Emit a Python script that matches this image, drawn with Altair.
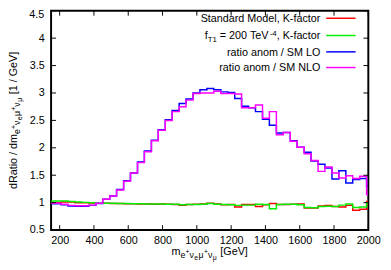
import altair as alt
import pandas as pd

# ---- data ----
edges = [150, 208, 249, 289, 330, 370, 411, 451, 492, 532, 573, 613, 654, 694, 735, 775,
         816, 856, 897, 937, 978, 1018, 1059, 1099, 1140, 1180, 1221, 1261, 1302, 1342,
         1383, 1423, 1464, 1504, 1545, 1585, 1626, 1666, 1707, 1747, 1788, 1828, 1869,
         1909, 1950, 1990, 2000]

sm_kfactor = [1.0, 1.01, 1.01, 1.0, 1.0, 0.995, 0.99, 0.99, 0.985, 0.985,
              0.98, 0.98, 0.975, 0.975, 0.97, 0.975, 0.97, 0.965, 0.95, 0.965,
              0.97, 0.975, 0.99, 0.975, 0.96, 0.965, 0.92, 0.965, 0.965, 0.93,
              0.96, 0.985, 0.965, 0.965, 0.97, 0.975, 0.90, 0.90, 0.94, 0.95,
              0.93, 0.92, 0.95, 0.86, 0.88, 1.02]
ft1_kfactor = [1.03, 1.03, 1.02, 1.01, 1.005, 1.0, 0.995, 0.99, 0.99, 0.985,
               0.985, 0.98, 0.98, 0.975, 0.975, 0.975, 0.97, 0.97, 0.96, 0.965,
               0.965, 0.97, 0.985, 0.97, 0.965, 0.96, 0.95, 0.955, 0.955, 0.97,
               0.965, 0.89, 0.965, 0.97, 0.97, 0.96, 0.91, 0.905, 0.93, 0.935,
               0.93, 0.955, 0.975, 0.91, 0.92, 1.0]
ratio_lo = [0.98, 0.96, 0.94, 0.935, 0.935, 0.95, 0.985, 1.06, 1.12, 1.24,
            1.40, 1.54, 1.74, 1.94, 2.14, 2.33, 2.51, 2.68, 2.81, 2.89,
            3.00, 3.06, 3.08, 3.06, 3.02, 3.01, 2.90, 2.76, 2.73, 2.66,
            2.52, 2.41, 2.27, 2.28, 2.13, 2.01, 1.92, 1.76, 1.70, 1.63,
            1.43, 1.58, 1.36, 1.42, 1.44, 1.30]
ratio_nlo = [0.99, 0.97, 0.95, 0.945, 0.945, 0.955, 0.99, 1.06, 1.12, 1.23,
             1.39, 1.54, 1.73, 1.93, 2.13, 2.32, 2.50, 2.66, 2.75, 2.87,
             2.99, 3.00, 3.00, 3.03, 2.99, 2.99, 2.98, 2.73, 2.73, 2.78,
             2.54, 2.66, 2.24, 2.28, 2.12, 2.01, 1.89, 1.77, 1.57, 1.65,
             1.54, 1.45, 1.49, 1.44, 1.48, 1.15]

series_names = ["Standard Model, K-factor", "f_T1 = 200 TeV^-4, K-factor",
                "ratio anom / SM LO", "ratio anom / SM NLO"]
series_values = [sm_kfactor, ft1_kfactor, ratio_lo, ratio_nlo]
series_colors = ["#ff0000", "#00ee00", "#0000ff", "#ff00ff"]

x_ticks = [200, 400, 600, 800, 1000, 1200, 1400, 1600, 1800, 2000]
y_ticks = [0.5, 1, 1.5, 2, 2.5, 3, 3.5, 4, 4.5]
y_labelled = [0.5, 1, 1.5, 2, 2.5, 3, 3.5, 4]

W, H = 324, 224
FONT = "Liberation Sans"

xscale = alt.Scale(domain=[150, 2000], nice=False, zero=False)
yscale = alt.Scale(domain=[0.5, 4.5], nice=False, zero=False)
xaxis = alt.Axis(values=x_ticks, format="d", labelPadding=5, labelFlush=False, title=None)
yaxis = alt.Axis(values=y_labelled, format="~g", labelPadding=7, title=None)


def step_df(vals):
    return pd.DataFrame({"x": edges, "v": list(vals) + [vals[-1]]})


layers = []
for vals, col in zip(series_values, series_colors):
    layers.append(
        alt.Chart(step_df(vals)).mark_line(interpolate="step-after", color=col,
                                           strokeWidth=1.5, clip=True)
        .encode(x=alt.X("x:Q", scale=xscale, axis=xaxis),
                y=alt.Y("v:Q", scale=yscale, axis=yaxis))
    )

# inward ticks on all four sides
xt = pd.DataFrame({"x": x_ticks})
yt = pd.DataFrame({"v": y_ticks})
one = pd.DataFrame({"k": [0]})
tick_style = dict(color="black", strokeWidth=1)
layers.append(alt.Chart(xt).mark_rule(**tick_style).encode(
    x=alt.X("x:Q", scale=xscale, axis=xaxis), y=alt.value(H), y2=alt.value(H - 5)))
layers.append(alt.Chart(xt).mark_rule(**tick_style).encode(
    x=alt.X("x:Q", scale=xscale, axis=xaxis), y=alt.value(0), y2=alt.value(5)))
layers.append(alt.Chart(yt).mark_rule(**tick_style).encode(
    y=alt.Y("v:Q", scale=yscale, axis=yaxis), x=alt.value(0), x2=alt.value(5)))
layers.append(alt.Chart(yt).mark_rule(**tick_style).encode(
    y=alt.Y("v:Q", scale=yscale, axis=yaxis), x=alt.value(W), x2=alt.value(W - 5)))

# top y label (kept inside the page)
layers.append(alt.Chart(one).mark_text(
    align="right", baseline="middle", font=FONT, fontSize=11, color="black",
    text="4.5").encode(x=alt.value(-7), y=alt.value(4)))

# ---- text composition helpers (sub/superscripts) ----
EM = {'/': .278, '[': .278, ']': .278, ',': .278, '-': .333,
      '=': .584, '+': .584, '.': .278, 'a': .556, 'c': .5, 'd': .556, 'e': .556,
      'f': .278, 'i': .222, 'l': .222, 'm': .833, 'n': .556, 'o': .556, 'r': .333,
      's': .5, 't': .278, 'G': .778, 'K': .667, 'L': .556, 'M': .833, 'N': .722,
      'O': .778, 'R': .722, 'S': .667, 'T': .611, 'V': .667, 'ν': .55, 'μ': .6,
      ' ': .278}


def tw(s, size):
    return sum(EM.get(c, .556) for c in s) * size


def compose(pieces, x0, y0, angle=0):
    """pieces: (text, fontsize, baseline shift, gap before in px)"""
    out, s = [], 0.0
    for text, size, shift, gap in pieces:
        s += gap
        if angle == 0:
            out.append((text, x0 + s, y0 + shift, size, 0))
        else:
            out.append((text, x0 + shift, y0 - s, size, 270))
        s += tw(text, size)
    return out, s


sub = [("e", 9, 3, 0), ("+", 7, -1, 0), ("ν", 9, 3, 0), ("e", 7, 5, 0),
       ("μ", 9, 3, 0.5), ("+", 7, -1, 0), ("ν", 9, 3, 0), ("μ", 7, 5, 0)]

xt_pieces = [("m", 11, 0, 0)] + sub + [("[GeV]", 11, 0, 3.5)]
yt_pieces = [("dRatio / dm", 11, 0, 0)] + sub + [("[1 / GeV]", 11, 0, 3.5)]

pieces = []
_, xlen = compose(xt_pieces, 0, 0)
p, _ = compose(xt_pieces, W / 2 - xlen / 2, 249.5, 0)
pieces += p
_, ylen = compose(yt_pieces, 0, 0)
p, _ = compose(yt_pieces, -35, H / 2 + ylen / 2, 270)
pieces += p

# legend
leg_y = [7.7, 25.3, 42, 58]
LX = 275
ft_pieces = [("f", 11, 0, 0), ("T1", 8, 3, 0), ("=", 11, 0, 3), ("200", 11, 0, 3),
             ("TeV", 11, 0, 3), ("-4", 8, -4, 0), (",", 11, 0, 0), ("K-factor", 11, 0, 3)]
_, total = compose(ft_pieces, 0, 0)
p, _ = compose(ft_pieces, LX - total, leg_y[1] + 4, 0)
pieces += p

for text, px, py, size, ang in pieces:
    layers.append(alt.Chart(one).mark_text(
        align="left", baseline="alphabetic", font=FONT, color="black",
        fontSize=size, angle=ang, text=text).encode(
        x=alt.value(px), y=alt.value(py)))

for idx in (0, 2, 3):
    layers.append(alt.Chart(one).mark_text(
        align="right", baseline="alphabetic", font=FONT, color="black",
        fontSize=11, text=series_names[idx]).encode(
        x=alt.value(LX), y=alt.value(leg_y[idx] + 4)))

for ly, col in zip(leg_y, series_colors):
    layers.append(alt.Chart(one).mark_rule(strokeWidth=1.5, color=col).encode(
        x=alt.value(281), x2=alt.value(311), y=alt.value(ly)))

chart = alt.layer(*layers).properties(
    width=W, height=H, autosize=alt.AutoSizeParams(type="none"),
    padding={"left": 44, "top": 0, "right": 15, "bottom": 38},
    background="white",
).configure_view(stroke="black", strokeWidth=2).configure_axis(
    labelFont=FONT, labelFontSize=11, labelColor="black", ticks=False, tickSize=0,
    domain=False, grid=False, labelOverlap=False)

chart.save("out.html", embed_options={"renderer": "svg", "actions": False})
